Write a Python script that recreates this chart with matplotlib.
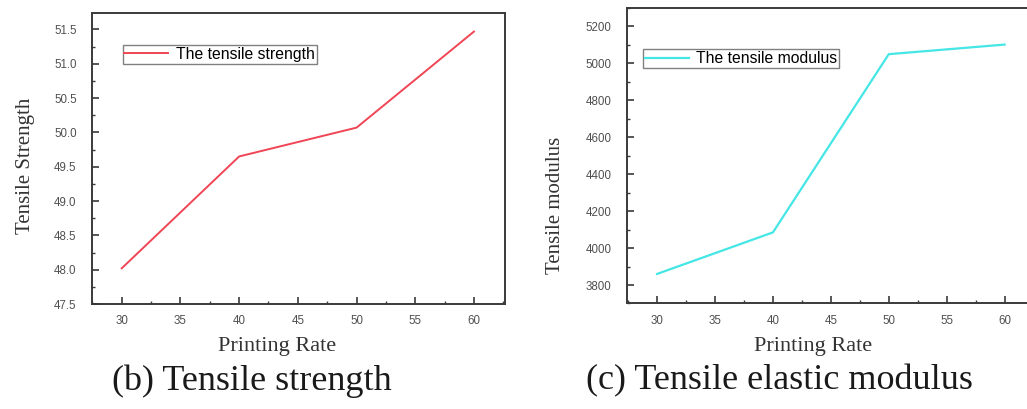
import numpy as np
import matplotlib
matplotlib.use("Agg")
from matplotlib import pyplot as plt
from matplotlib.ticker import MultipleLocator, FormatStrFormatter

# printing rate vs. tensile properties
rate = [30, 40, 50, 60]
strength = [48.02, 49.65, 50.07, 51.47]
modulus = [3860, 4085, 5050, 5102]

SERIF = "Liberation Serif"
SANS = "Liberation Sans"


def style_axes(ax, ymajor, yminor):
    for s in ax.spines.values():
        s.set_color("#3a3a3a")
        s.set_linewidth(1.4)
    ax.xaxis.set_major_locator(MultipleLocator(5))
    ax.xaxis.set_minor_locator(MultipleLocator(2.5))
    ax.yaxis.set_major_locator(MultipleLocator(ymajor))
    ax.yaxis.set_minor_locator(MultipleLocator(yminor))
    ax.tick_params(which="both", direction="in", top=False, right=False,
                   colors="#3a3a3a", labelcolor="#505050")
    ax.tick_params(which="major", length=5, width=1.2, labelsize=8.3)
    ax.tick_params(which="minor", length=2.5, width=1.0)
    ax.tick_params(axis="x", pad=8)
    ax.tick_params(axis="y", pad=11)
    for lab in ax.get_xticklabels() + ax.get_yticklabels():
        lab.set_fontfamily(SANS)


def add_legend(ax, anchor):
    leg = ax.legend(loc="upper left", bbox_to_anchor=anchor, borderaxespad=0,
                    prop={"family": SANS, "size": 11.3}, handlelength=2.8,
                    borderpad=0.12, handletextpad=0.5, fancybox=False, framealpha=1)
    leg.get_frame().set_edgecolor("#808080")
    leg.get_frame().set_linewidth(1.0)
    return leg


fig = plt.figure(figsize=(10.27, 4.09), dpi=100)

# (b) tensile strength
ax1 = fig.add_axes([0.0896, 0.2567, 0.4021, 0.7115])
ax1.plot(rate, strength, color="#f04555", lw=1.4, label="The tensile strength")
ax1.set_xlim(27.47, 62.64)
ax1.set_ylim(47.5, 51.74)
style_axes(ax1, 0.5, 0.25)
ax1.yaxis.set_major_formatter(FormatStrFormatter("%.1f"))
ax1.set_xlabel("Printing Rate", fontfamily=SERIF, fontsize=16, color="#333333")
ax1.set_ylabel("Tensile Strength", fontfamily=SERIF, fontsize=15, color="#333333")
ax1.xaxis.set_label_coords(0.448, -0.113)
ax1.yaxis.set_label_coords(-0.138, 0.474)
add_legend(ax1, (0.074, 0.89))

# (c) tensile elastic modulus
ax2 = fig.add_axes([0.6105, 0.258, 0.3925, 0.7224])
ax2.plot(rate, modulus, color="#45e6e6", lw=1.6, label="The tensile modulus")
ax2.set_xlim(27.4, 62.2)
ax2.set_ylim(3700, 5300)
style_axes(ax2, 200, 100)
ax2.set_xlabel("Printing Rate", fontfamily=SERIF, fontsize=16, color="#333333")
ax2.set_ylabel("Tensile modulus", fontfamily=SERIF, fontsize=15, color="#333333")
ax2.xaxis.set_label_coords(0.4615, -0.113)
ax2.yaxis.set_label_coords(-0.154, 0.333)
add_legend(ax2, (0.039, 0.86))

fig.text(0.245, 0.068, "(b) Tensile strength", ha="center", va="center",
         fontfamily=SERIF, fontsize=26, color="#1a1a1a")
fig.text(0.7585, 0.068, "(c) Tensile elastic modulus", ha="center", va="center",
         fontfamily=SERIF, fontsize=26, color="#1a1a1a")

fig.savefig("out.png", dpi=100)
